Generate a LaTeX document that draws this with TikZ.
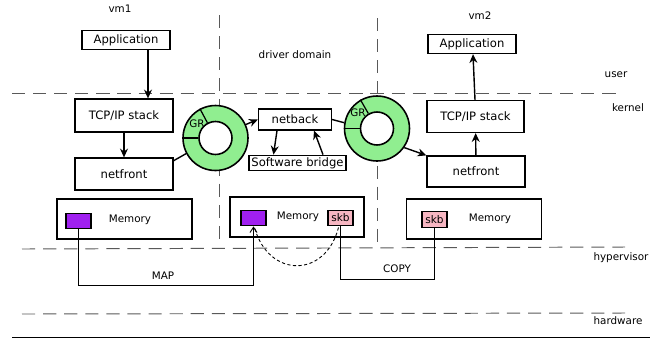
\documentclass[tikz,border=0pt]{standalone}
\usepackage{fontspec}
\setmainfont{DejaVu Sans}
\usetikzlibrary{calc}
\usetikzlibrary{arrows.meta}
\definecolor{ringgreen}{HTML}{90EE90}
\definecolor{bufpurple}{HTML}{A020F0}
\definecolor{skbpink}{HTML}{F7B6C2}

\begin{document}
\begin{tikzpicture}[x=0.02cm, y=-0.02cm,
            box-node/.style={rectangle,draw,line width=0.7pt,inner sep=0pt,font=\fontsize{6.6}{8}\selectfont},
            mem-node/.style={rectangle,draw,line width=0.8pt,inner sep=0pt,minimum width=2.7cm,minimum height=0.8cm},
            buf-node/.style={rectangle,draw,line width=0.8pt,inner sep=0pt,minimum width=0.5cm,minimum height=0.31cm,font=\fontsize{6}{7}\selectfont},
            lbl-node/.style={inner sep=0pt,font=\fontsize{5.9}{7}\selectfont},
            ring-node/.style={circle,draw,line width=0.9pt,fill=ringgreen,minimum size=1.3cm,inner sep=0pt},
            hole-node/.style={circle,draw,line width=0.9pt,fill=white,minimum size=0.66cm,inner sep=0pt},
            layer/.style={dash pattern=on 7.5pt off 4.5pt,line width=0.55pt,black!65},
            flow/.style={-{Stealth[length=5pt,width=4.5pt]},line width=0.8pt},
        ]
            \useasboundingbox (0,0) rectangle (662,339);

            % layers and domains
            \draw[layer] (12,93) -- (618,93);
            \draw[layer] (22,249) -- (625,247);
            \draw[layer] (22,314) -- (625,313);
            \draw[line width=0.7pt] (12,337.5) -- (650,337.5);
            \draw[layer] (219,15) -- (219,245);
            \draw[layer] (377,18) -- (377,245);

            \node[lbl-node] (vm1) at (120,9) {vm1};
            \node[lbl-node] (vm2) at (480,16) {vm2};
            \node[lbl-node] (dd) at (295,55) {driver domain};
            \node[lbl-node] (user) at (616,75) {user};
            \node[lbl-node] (kernel) at (628,108) {kernel};
            \node[lbl-node] (hyp) at (621,258) {hypervisor};
            \node[lbl-node] (hw) at (618,321) {hardware};

            % vm1
            \node[box-node,minimum width=1.76cm,minimum height=0.38cm] (app1) at (126,40) {Application};
            \node[box-node,minimum width=1.96cm,minimum height=0.66cm] (tcp1) at (124,115.5) {TCP/IP stack};
            \node[box-node,minimum width=1.96cm,minimum height=0.64cm] (nf1) at (124,174) {netfront};
            \node[mem-node] (mem1) at (124.5,219) {};
            \node[lbl-node] (memtxt1) at (130,220) {Memory};
            \node[buf-node,fill=bufpurple] (p1) at (78.5,221) {};

            % driver domain
            \node[ring-node] (ring1) at (215.5,138) {};
            \node[hole-node] (hole1) at (215.5,138) {};
            \draw[line width=0.7pt] (hole1.118) -- (ring1.118);
            \draw[line width=0.7pt] (hole1.180) -- (ring1.180);
            \node[lbl-node] (gr1) at (197,124) {GR};

            \node[box-node,minimum width=1.46cm,minimum height=0.42cm] (nb) at (295,119.5) {netback};
            \node[box-node,minimum width=1.94cm,minimum height=0.31cm] (br) at (297.5,163) {Software bridge};

            \node[ring-node] (ring2) at (377,128.5) {};
            \node[hole-node] (hole2) at (377,128.5) {};
            \draw[line width=0.7pt] (hole2.120) -- (ring2.120);
            \draw[line width=0.7pt] (hole2.180) -- (ring2.180);
            \node[lbl-node] (gr2) at (358,113) {GR};

            \node[mem-node,minimum width=2.68cm] (mem2) at (297,217) {};
            \node[lbl-node] (memtxt2) at (298,217) {Memory};
            \node[buf-node,fill=bufpurple] (p2) at (253.5,218) {};
            \node[buf-node,fill=skbpink] (s1) at (340.5,218) {skb};

            % vm2
            \node[box-node,minimum width=1.76cm,minimum height=0.38cm] (app2) at (472,44) {Application};
            \node[box-node,minimum width=1.94cm,minimum height=0.64cm] (tcp2) at (475.5,116.5) {TCP/IP stack};
            \node[box-node,minimum width=1.96cm,minimum height=0.62cm] (nf2) at (476,171.5) {netfront};
            \node[mem-node] (mem3) at (474,219) {};
            \node[lbl-node] (memtxt3) at (490,219) {Memory};
            \node[buf-node,fill=skbpink] (s2) at (434.5,219.5) {skb};

            % data path
            \draw[flow] (app1.south -| 148,0) -- (tcp1.north -| 148,0);
            \draw[flow] (tcp1) -- (nf1);
            \draw[line width=0.8pt] (nf1.15) -- (ring1.208);
            \draw[flow] (ring1.24) -- (nb.west);
            \draw[flow] ($(nb.south)+(-18,0)$) -- ($(br.north)+(-24,0)$);
            \draw[flow] ($(br.north)+(25.5,0)$) -- ($(nb.south)+(19,0)$);
            \draw[line width=0.8pt] (nb.east) -- (ring2.170);
            \draw[flow] (ring2.-35) -- (nf2.north west);
            \draw[flow] (nf2) -- (tcp2);
            \draw[flow] ($(tcp2.north)+(-0.5,0)$) -- ($(app2.south)+(1,0)$);

            % memory operations
            \coordinate (mapmid) at (163,285);
            \coordinate (copymid) at (397,279);
            \draw[-{Straight Barb[length=3pt,width=4pt]},line width=0.5pt] (p1.south) |- (mapmid) -| (p2.south);
            \node[lbl-node] (map) at (163,276) {MAP};
            \draw[line width=0.5pt] (s1.south) |- (copymid) -| (s2.south);
            \node[lbl-node] (copy) at (397,269) {COPY};
            \draw[line width=0.5pt,dash pattern=on 1.8pt off 1.4pt] ($(s1.south)+(-2,1)$) .. controls ($(s1.south)+(-15,52)$) and ($(p2.south)+(15,52)$) .. ($(p2.south)+(1,1)$);
        \end{tikzpicture}
\end{document}
